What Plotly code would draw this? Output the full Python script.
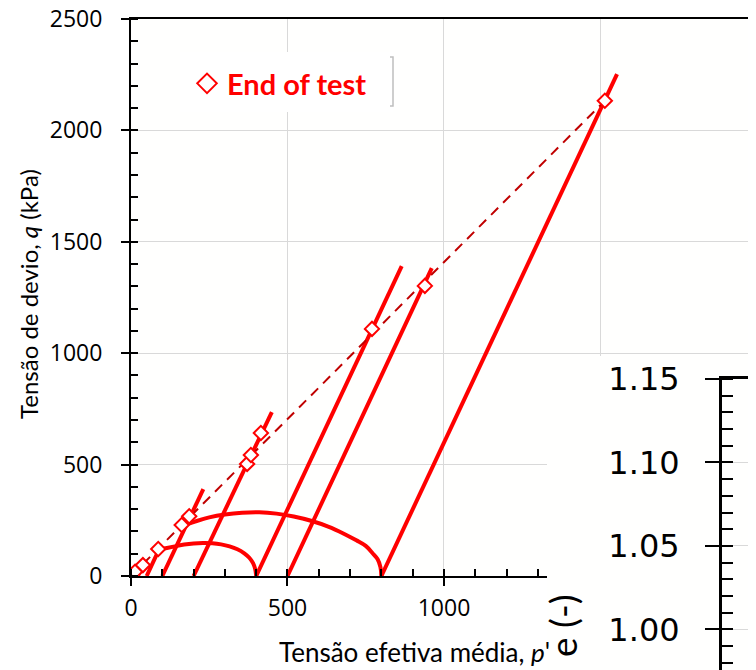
import plotly.graph_objects as go

# drained paths (slope 3): start on the p axis, end at the last reading
p0_drained = [7, 22, 50, 100, 200, 400, 500, 800]
p_last_drained = [16, 42, 95, 231, 450, 865, 961, 1553]
q_last_drained = [27, 60, 135, 390, 736, 1391, 1382, 2253]

# undrained paths from p' = 400 and 800 kPa
p_undrained_400 = [400, 397, 390, 378, 362, 340, 315, 288, 260, 230, 200, 170, 140, 115, 97]
q_undrained_400 = [0, 30, 58, 82, 102, 120, 133, 142, 147, 148, 146, 141, 133, 126, 121]
p_undrained_800 = [800, 797, 788, 772, 750, 720, 680, 630, 575, 520, 465, 410, 355, 300, 250, 210, 180, 165]
q_undrained_800 = [0, 40, 75, 102, 135, 160, 190, 222, 248, 267, 280, 286, 284, 276, 263, 247, 232, 224]

# end of test points
p_end = [13, 38, 87, 162, 186, 371, 383, 415, 770, 939, 1514]
q_end = [19, 49, 121, 229, 268, 503, 543, 642, 1109, 1302, 2133]

# critical state line
p_csl = [0, 1514]
q_csl = [0, 2133]

# the page body keeps its 8px margin, so the figure is a bit smaller than the window
OFF = 8
W, H = 748, 662


def fx(px):
    return (px - OFF) / W


def fy(py):
    return 1 - (py - OFF) / H


RED = "#ff0000"
FONT = "Lato, sans-serif"
NUM_FONT = "Open Sans, sans-serif"
GRID = "#d9d9d9"

fig = go.Figure()

for p0, p1, q1 in zip(p0_drained, p_last_drained, q_last_drained):
    fig.add_trace(go.Scatter(x=[p0, p1], y=[0, q1], mode="lines",
                             line=dict(color=RED, width=4),
                             showlegend=False, hoverinfo="skip"))

for px_, qy_ in [(p_undrained_400, q_undrained_400), (p_undrained_800, q_undrained_800)]:
    fig.add_trace(go.Scatter(x=px_, y=qy_, mode="lines",
                             line=dict(color=RED, width=4, shape="spline"),
                             showlegend=False, hoverinfo="skip"))

fig.add_trace(go.Scatter(x=p_csl, y=q_csl, mode="lines",
                         line=dict(color="#c00000", width=2, dash="10px,7px"),
                         showlegend=False, hoverinfo="skip"))

fig.add_trace(go.Scatter(x=p_end, y=q_end, mode="markers",
                         marker=dict(symbol="diamond", size=11, color="white",
                                     line=dict(color=RED, width=2)),
                         showlegend=False))

# legend entry only
fig.add_trace(go.Scatter(x=[None], y=[None], mode="markers", name="<b>End of test</b>",
                         marker=dict(symbol="diamond-open", size=15, color=RED,
                                     line=dict(color=RED, width=2))))

# empty traces so the extra axes / inset subplots get drawn
for xa, ya in [("x4", "y"), ("x", "y4"), ("x2", "y2"), ("x3", "y3"), ("x3", "y5")]:
    fig.add_trace(go.Scatter(x=[], y=[], xaxis=xa, yaxis=ya,
                             showlegend=False, hoverinfo="skip"))

tick_font = dict(family=NUM_FONT, size=23, color="black")
main_dom_x = [fx(131), 1]
main_dom_y = [fy(576), fy(19)]
x_range = [0, 1997]
y_range = [0, 2500]
inset_y_range = [0.9757, 1.15]

fig.update_layout(
    width=W, height=H,
    margin=dict(l=0, r=0, t=0, b=0, pad=0, autoexpand=False),
    paper_bgcolor="white", plot_bgcolor="#fffffe",
    font=dict(family=FONT, color="black"),
    legend=dict(x=fx(187), y=fy(58), xanchor="left", yanchor="top",
                bgcolor="white", font=dict(family=FONT, size=29, color=RED)),
    xaxis=dict(domain=main_dom_x, anchor="y", range=x_range, tick0=0, dtick=500,
               automargin=False, ticklabeloverflow="allow",
               showgrid=True, gridcolor=GRID, gridwidth=1.3, zeroline=False,
               showline=True, linecolor="black", linewidth=2, mirror=True,
               ticks="outside", ticklen=8, tickwidth=2, tickcolor="black",
               tickfont=tick_font, ticklabelstandoff=2,
               minor=dict(ticks="inside", tick0=0, dtick=100, ticklen=7,
                          tickwidth=1.5, tickcolor="black", showgrid=False)),
    yaxis=dict(domain=main_dom_y, anchor="x", range=y_range, tick0=0, dtick=500,
               automargin=False, ticklabeloverflow="allow",
               showgrid=True, gridcolor=GRID, gridwidth=1.3, zeroline=False,
               showline=True, linecolor="black", linewidth=2,
               ticks="outside", ticklen=8, tickwidth=2, tickcolor="black",
               tickfont=tick_font, ticklabelstandoff=14,
               minor=dict(ticks="inside", tick0=0, dtick=100, ticklen=7,
                          tickwidth=1.5, tickcolor="black", showgrid=False)),
    # inward half of the major ticks
    xaxis4=dict(overlaying="x", anchor="y", side="bottom", range=x_range,
                automargin=False,
                tickvals=[0, 500, 1000, 1500], ticks="inside", ticklen=7, tickwidth=2,
                tickcolor="black", showticklabels=False, showgrid=False,
                showline=False, zeroline=False),
    yaxis4=dict(overlaying="y", anchor="x", side="left", range=y_range,
                automargin=False,
                tickvals=[0, 500, 1000, 1500, 2000, 2500], ticks="inside", ticklen=7,
                tickwidth=2, tickcolor="black", showticklabels=False,
                showgrid=False, showline=False, zeroline=False),
    # white panel of the e plot lying over the corner
    xaxis2=dict(domain=[fx(547), 1], anchor="y2", range=[0, 1], visible=False,
                automargin=False),
    yaxis2=dict(domain=[0, fy(356)], anchor="x2", range=[0, 1], visible=False,
                automargin=False),
    # e axis
    xaxis3=dict(domain=[fx(722), 1], anchor="y3", side="top", range=[0, 1],
                automargin=False,
                showline=True, linecolor="black", linewidth=3, ticks="",
                showticklabels=False, showgrid=False, zeroline=False),
    yaxis3=dict(domain=[0, fy(379)], anchor="x3", range=inset_y_range,
                automargin=False, ticklabeloverflow="allow",
                tick0=1.0, dtick=0.05, tickformat=".2f",
                showgrid=True, gridcolor=GRID, gridwidth=1.3, zeroline=False,
                showline=True, linecolor="black", linewidth=3,
                ticks="outside", ticklen=14, tickwidth=2, tickcolor="black",
                tickfont=dict(family="DejaVu Sans, sans-serif", size=32, color="black"),
                ticklabelstandoff=19,
                minor=dict(ticks="inside", tick0=1.0, dtick=0.01, ticklen=11,
                           tickwidth=2, tickcolor="black", showgrid=False)),
    yaxis5=dict(overlaying="y3", anchor="x3", side="left", range=inset_y_range,
                automargin=False,
                tickvals=[1.0, 1.05, 1.1, 1.15], ticks="inside", ticklen=11,
                tickwidth=2, tickcolor="black", showticklabels=False,
                showgrid=False, showline=False, zeroline=False),
)

fig.add_annotation(text="Tensão de devio, <i>q</i> (kPa)", textangle=-90,
                   xref="paper", yref="paper", x=fx(28), y=fy(294),
                   xanchor="center", yanchor="middle",
                   showarrow=False, font=dict(family=FONT, size=24, color="black"))
fig.add_annotation(text="Tensão efetiva média, <i>p</i>'",
                   xref="paper", yref="paper", x=fx(277), y=fy(652),
                   xanchor="left", yanchor="middle", showarrow=False,
                   font=dict(family=FONT, size=26, color="black"))
fig.add_annotation(text="e (-)", textangle=-90,
                   xref="paper", yref="paper", x=fx(562), y=fy(626),
                   xanchor="center", yanchor="middle",
                   showarrow=False, font=dict(family=FONT, size=37, color="black"))

# white box behind the legend, over the grid
fig.add_shape(type="rect", xref="x", yref="y", layer="between",
              x0=157, x1=837, y0=2083, y1=2352,
              fillcolor="white", line=dict(width=0))
# right edge of the legend box
fig.add_shape(type="path", xref="paper", yref="paper",
              path=f"M {fx(390)} {fy(57)} L {fx(393)} {fy(57)} "
                   f"L {fx(393)} {fy(106)} L {fx(390)} {fy(106)}",
              line=dict(color="#bfbfbf", width=1.5))
# legend of the e plot, cut by the page edge
fig.add_shape(type="rect", xref="paper", yref="paper",
              x0=fx(752), x1=1.01, y0=fy(477), y1=fy(422),
              fillcolor="#c9d1ea", line=dict(width=0))
fig.add_shape(type="rect", xref="paper", yref="paper",
              x0=fx(752), x1=1.01, y0=fy(580), y1=fy(480),
              fillcolor="#e8ebf6", line=dict(width=0))

fig.write_html("out.html")
